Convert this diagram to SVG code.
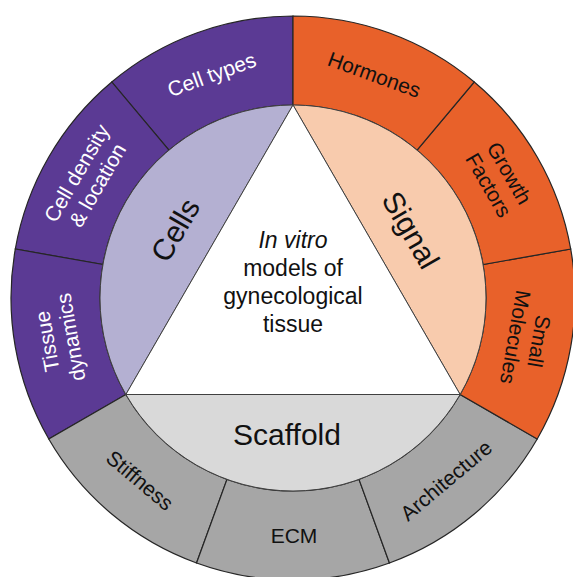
<svg xmlns="http://www.w3.org/2000/svg" width="573" height="577" viewBox="0 0 573 577">
<style>
text{font-family:"Liberation Sans",Arial,sans-serif;text-anchor:middle}
.seg{stroke:#262626;stroke-width:1.2}
.cells{fill:#5b3a94}
.signal{fill:#e8612a}
.scaf{fill:#a6a6a6}
.in{stroke:#404040;stroke-width:1}
.lo{font-size:21px}
.li{font-size:30px;fill:#111}
.w{fill:#fff}
.k{fill:#111}
.ctr{font-size:23px;fill:#111}
</style>
<rect width="573" height="577" fill="#fff"/>
<g id="cell-types"><path class="seg cells" d="M293,16 A282,282 0 0 0 111.73,81.98 L168.94,150.15 A193,193 0 0 1 293,105 Z"/><text class="lo w" transform="translate(211.6,74.4) rotate(-20)" dy="7.5">Cell types</text></g>
<g id="cell-density"><path class="seg cells" d="M111.73,81.98 A282,282 0 0 0 15.29,249.03 L102.93,264.49 A193,193 0 0 1 168.94,150.15 Z"/><text class="lo w" transform="translate(86.9,179) rotate(-60)"><tspan x="0" dy="-4.5">Cell density</tspan><tspan x="0" dy="24">&amp; location</tspan></text></g>
<g id="tissue-dynamics"><path class="seg cells" d="M15.29,249.03 A282,282 0 0 0 48.78,439 L125.86,394.5 A193,193 0 0 1 102.93,264.49 Z"/><text class="lo w" transform="translate(58.6,339.3) rotate(-100)"><tspan x="0" dy="-4.5">Tissue</tspan><tspan x="0" dy="24">dynamics</tspan></text></g>
<g id="stiffness"><path class="seg scaf" d="M48.78,439 A282,282 0 0 0 196.55,562.99 L226.99,479.36 A193,193 0 0 1 125.86,394.5 Z"/><text class="lo k" transform="translate(140,480.3) rotate(40)" dy="7.5">Stiffness</text></g>
<g id="ecm"><path class="seg scaf" d="M196.55,562.99 A282,282 0 0 0 389.45,562.99 L359.01,479.36 A193,193 0 0 1 226.99,479.36 Z"/><text class="lo k" x="294" y="543">ECM</text></g>
<g id="architecture"><path class="seg scaf" d="M389.45,562.99 A282,282 0 0 0 537.22,439 L460.14,394.5 A193,193 0 0 1 359.01,479.36 Z"/><text class="lo k" transform="translate(446,480.3) rotate(-40)" dy="7.5">Architecture</text></g>
<g id="small-molecules"><path class="seg signal" d="M537.22,439 A282,282 0 0 0 570.71,249.03 L483.07,264.49 A193,193 0 0 1 460.14,394.5 Z"/><text class="lo k" transform="translate(527.4,339.3) rotate(100)"><tspan x="0" dy="-4.5">Small</tspan><tspan x="0" dy="24">Molecules</tspan></text></g>
<g id="growth-factors"><path class="seg signal" d="M570.71,249.03 A282,282 0 0 0 474.27,81.98 L417.06,150.15 A193,193 0 0 1 483.07,264.49 Z"/><text class="lo k" transform="translate(499.1,179) rotate(60)"><tspan x="0" dy="-4.5">Growth</tspan><tspan x="0" dy="24">Factors</tspan></text></g>
<g id="hormones"><path class="seg signal" d="M474.27,81.98 A282,282 0 0 0 293,16 L293,105 A193,193 0 0 1 417.06,150.15 Z"/><text class="lo k" transform="translate(374.4,74.4) rotate(20)" dy="7.5">Hormones</text></g>
<g id="cells"><path class="in" fill="#b4b0d2" d="M293,105 A193,193 0 0 0 125.86,394.5 Z"/><text class="li" transform="translate(175.2,230) rotate(-60)" dy="10.5">Cells</text></g>
<g id="signal"><path class="in" fill="#f8cbad" d="M293,105 A193,193 0 0 1 460.14,394.5 Z"/><text class="li" transform="translate(410.8,230) rotate(60)" dy="10.5">Signal</text></g>
<g id="scaffold"><path class="in" fill="#d9d9d9" d="M125.86,394.5 A193,193 0 0 0 460.14,394.5 Z"/><text class="li" x="287" y="445">Scaffold</text></g>
<g id="center"><polygon class="in" fill="#fff" points="293,105 125.86,394.5 460.14,394.5"/><text class="ctr" x="293" y="247.5"><tspan font-style="italic">In vitro</tspan><tspan x="293" dy="28">models of</tspan><tspan x="293" dy="28">gynecological</tspan><tspan x="293" dy="28">tissue</tspan></text></g>
<g id="connectors"/>
</svg>
